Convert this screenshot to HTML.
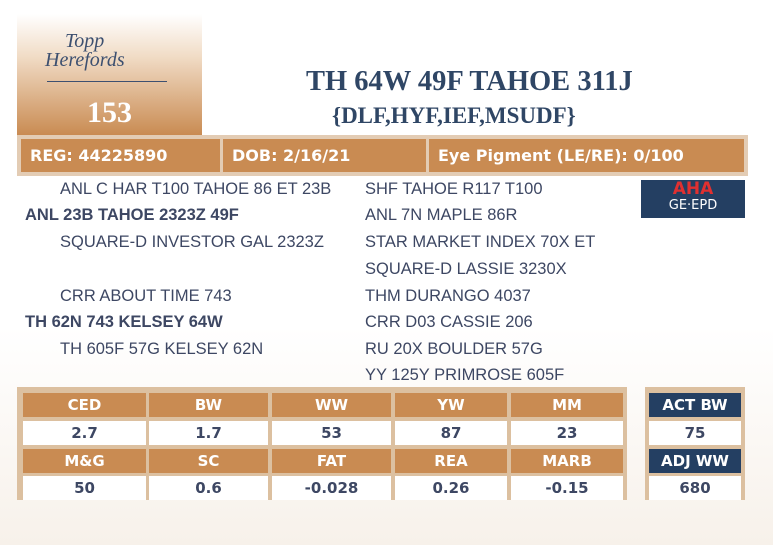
<!DOCTYPE html><html><head><style>
body{margin:0;width:773px;height:545px;background:linear-gradient(#fff 0%,#fff 60%,#f7f1ea 100%);font-family:"DejaVu Sans","Liberation Sans",sans-serif;position:relative;overflow:hidden}
.a{position:absolute}
.logo{left:17px;top:14px;width:185px;height:121px;background:linear-gradient(#fff 0%,#f1dcc6 35%,#c98b52 100%)}
.bar{left:17px;top:135px;width:731px;height:41px;background:#e3ccb4}
.c{position:absolute;top:4px;height:33px;background:#c98b52;color:#fff;font-weight:bold;font-size:16px;line-height:33px;padding-left:9px;box-sizing:border-box}
.g{position:absolute;font-size:17px;color:#3d4763;white-space:nowrap;font-family:"Liberation Sans",sans-serif;transform:scaleX(0.97);transform-origin:left}
.tb{left:17px;top:387px;width:610px;height:113px;background:#dcc0a0}
.h,.v{position:absolute;height:24px;line-height:24px;text-align:center;font-weight:bold;font-size:15px}
.h{background:#c98b52;color:#fff}.v{background:#fff;color:#3d4763}
.nb{background:#243f62;color:#fff}
</style></head><body>
<div class="a logo">
<div class="a" style="left:28px;top:18px;font-family:'Liberation Serif',serif;font-style:italic;color:#3d5070;font-size:20px;line-height:19px">&nbsp;&nbsp;&nbsp;&nbsp;Topp<br>Herefords</div>
<div class="a" style="left:30px;top:67px;width:120px;height:1px;background:#3d5070"></div>
<div class="a" style="left:0;width:185px;top:82px;text-align:center;font-family:'Liberation Serif',serif;color:#fff;font-size:30px;font-weight:bold">153</div>
</div>
<div class="a" style="left:306px;top:66px;font-family:'Liberation Serif',serif;font-weight:bold;font-size:28.5px;color:#2f4665;white-space:nowrap">TH 64W 49F TAHOE 311J</div>
<div class="a" style="left:332px;top:103px;font-family:'Liberation Serif',serif;font-weight:bold;font-size:23px;color:#2f4665;white-space:nowrap">{DLF,HYF,IEF,MSUDF}</div>
<div class="a bar">
<div class="c" style="left:4px;width:199px">REG: 44225890</div>
<div class="c" style="left:206px;width:203px">DOB: 2/16/21</div>
<div class="c" style="left:412px;width:315px">Eye Pigment (LE/RE): 0/100</div>
</div>
<div class="a" style="left:641px;top:180px;width:104px;height:38px;background:#243f62"><div style="color:#e03030;font-weight:bold;font-size:17px;text-align:center;line-height:18px">AHA</div><div style="color:#fff;font-size:13px;text-align:center;line-height:16px">GE·EPD</div></div>
<div class="g" style="left:60px;top:179px">ANL C HAR T100 TAHOE 86 ET 23B</div>
<div class="g" style="left:25px;top:205px;font-weight:bold">ANL 23B TAHOE 2323Z 49F</div>
<div class="g" style="left:60px;top:232px">SQUARE-D INVESTOR GAL 2323Z</div>
<div class="g" style="left:60px;top:286px">CRR ABOUT TIME 743</div>
<div class="g" style="left:25px;top:312px;font-weight:bold">TH 62N 743 KELSEY 64W</div>
<div class="g" style="left:60px;top:339px">TH 605F 57G KELSEY 62N</div>
<div class="g" style="left:365px;top:179px">SHF TAHOE R117 T100</div>
<div class="g" style="left:365px;top:205px">ANL 7N MAPLE 86R</div>
<div class="g" style="left:365px;top:232px">STAR MARKET INDEX 70X ET</div>
<div class="g" style="left:365px;top:259px">SQUARE-D LASSIE 3230X</div>
<div class="g" style="left:365px;top:286px">THM DURANGO 4037</div>
<div class="g" style="left:365px;top:312px">CRR D03 CASSIE 206</div>
<div class="g" style="left:365px;top:339px">RU 20X BOULDER 57G</div>
<div class="g" style="left:365px;top:365px">YY 125Y PRIMROSE 605F</div>
<div class="a tb">
<div class="h" style="left:6px;top:6px;width:123px">CED</div><div class="h" style="left:132px;top:6px;width:119px">BW</div><div class="h" style="left:255px;top:6px;width:119px">WW</div><div class="h" style="left:378px;top:6px;width:112px">YW</div><div class="h" style="left:494px;top:6px;width:112px">MM</div>
<div class="v" style="left:6px;top:34px;width:123px">2.7</div><div class="v" style="left:132px;top:34px;width:119px">1.7</div><div class="v" style="left:255px;top:34px;width:119px">53</div><div class="v" style="left:378px;top:34px;width:112px">87</div><div class="v" style="left:494px;top:34px;width:112px">23</div>
<div class="h" style="left:6px;top:62px;width:123px">M&amp;G</div><div class="h" style="left:132px;top:62px;width:119px">SC</div><div class="h" style="left:255px;top:62px;width:119px">FAT</div><div class="h" style="left:378px;top:62px;width:112px">REA</div><div class="h" style="left:494px;top:62px;width:112px">MARB</div>
<div class="v" style="left:6px;top:89px;width:123px">50</div><div class="v" style="left:132px;top:89px;width:119px">0.6</div><div class="v" style="left:255px;top:89px;width:119px">-0.028</div><div class="v" style="left:378px;top:89px;width:112px">0.26</div><div class="v" style="left:494px;top:89px;width:112px">-0.15</div>
</div>
<div class="a" style="left:645px;top:387px;width:100px;height:113px;background:#dcc0a0">
<div class="h nb" style="left:4px;top:6px;width:92px">ACT BW</div>
<div class="v" style="left:4px;top:34px;width:92px">75</div>
<div class="h nb" style="left:4px;top:62px;width:92px">ADJ WW</div>
<div class="v" style="left:4px;top:89px;width:92px">680</div>
</div>
</body></html>
